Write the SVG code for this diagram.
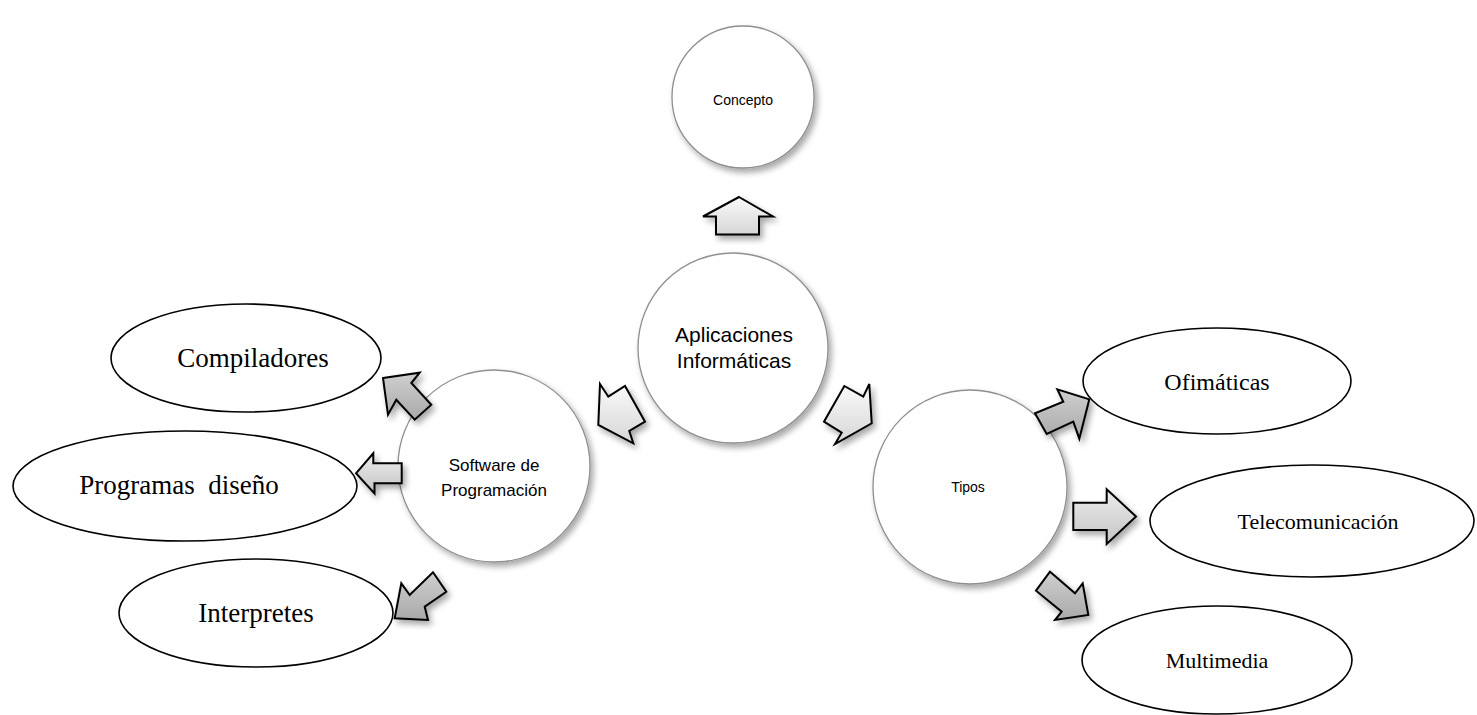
<svg xmlns="http://www.w3.org/2000/svg" width="1477" height="715" viewBox="0 0 1477 715">
<defs>
<filter id="sh" x="-20%" y="-20%" width="150%" height="150%">
<feGaussianBlur in="SourceAlpha" stdDeviation="3"/>
<feOffset dx="3" dy="4" result="b"/>
<feComponentTransfer><feFuncA type="linear" slope="0.35"/></feComponentTransfer>
<feMerge><feMergeNode/><feMergeNode in="SourceGraphic"/></feMerge>
</filter>
<linearGradient id="gl" x1="0" y1="0" x2="0" y2="1">
<stop offset="0" stop-color="#fafafa"/><stop offset="1" stop-color="#d6d6d6"/>
</linearGradient>
<linearGradient id="gm" x1="0" y1="0" x2="0" y2="1">
<stop offset="0" stop-color="#ececec"/><stop offset="1" stop-color="#c4c4c4"/>
</linearGradient>
<linearGradient id="gd" x1="0" y1="0" x2="0" y2="1">
<stop offset="0" stop-color="#cfcfcf"/><stop offset="1" stop-color="#a9a9a9"/>
</linearGradient>
</defs>
<style>
.circ{fill:#fff;stroke:#8f8f8f;stroke-width:1.3;filter:url(#sh)}
.ell{fill:#fff;stroke:#000;stroke-width:1.6}
.arr{stroke:#000;stroke-width:2;stroke-linejoin:miter;filter:url(#sh)}
.l{fill:url(#gl)}
.m{fill:url(#gm)}
.d{fill:url(#gd)}
.ct{font-family:"Liberation Sans",Arial,sans-serif;fill:#000;text-anchor:middle}
.et{font-family:"Liberation Serif","Times New Roman",serif;font-size:22px;fill:#000;text-anchor:middle}
.big{font-size:27px}
.mid{font-size:24px}
</style>
<rect width="1477" height="715" fill="#fff"/>

<g id="concepto">
<circle class="circ" cx="743" cy="97" r="71"/>
<text class="ct" x="743" y="105" font-size="14">Concepto</text>
</g>
<g id="aplicaciones">
<circle class="circ" cx="733" cy="348" r="95"/>
<text class="ct" x="734" y="342" font-size="21">Aplicaciones</text>
<text class="ct" x="734" y="368" font-size="21">Informáticas</text>
</g>
<g id="software">
<circle class="circ" cx="494" cy="466" r="96"/>
<text class="ct" x="494" y="471" font-size="17">Software de</text>
<text class="ct" x="494" y="496" font-size="17">Programación</text>
</g>
<g id="tipos">
<circle class="circ" cx="970" cy="487" r="97"/>
<text class="ct" x="968" y="492" font-size="14">Tipos</text>
</g>

<g id="compiladores">
<ellipse class="ell" cx="246" cy="358" rx="135" ry="54"/>
<text class="et big" x="253" y="367">Compiladores</text>
</g>
<g id="programas">
<ellipse class="ell" cx="185" cy="486" rx="172" ry="55"/>
<text class="et big" x="179" y="494" xml:space="preserve">Programas  diseño</text>
</g>
<g id="interpretes">
<ellipse class="ell" cx="256" cy="613" rx="137" ry="54"/>
<text class="et big" x="256" y="622">Interpretes</text>
</g>
<g id="ofimaticas">
<ellipse class="ell" cx="1217" cy="381" rx="134" ry="53"/>
<text class="et mid" x="1217" y="390">Ofimáticas</text>
</g>
<g id="telecomunicacion">
<ellipse class="ell" cx="1312" cy="521" rx="162" ry="56"/>
<text class="et" x="1318" y="529">Telecomunicación</text>
</g>
<g id="multimedia">
<ellipse class="ell" cx="1217" cy="660" rx="135" ry="54"/>
<text class="et" x="1217" y="668">Multimedia</text>
</g>

<g id="connectors">
<polygon class="arr l" points="739,197 773,216.5 759,216.5 759,234.5 716,234.5 716,216.5 703,216.5"/>
<polygon class="arr l" points="600,384 608.3,396.7 625,386 645,421.7 629.3,431 633.3,443.3 598.3,425"/>
<polygon class="arr l" points="869.3,384 863.3,396.7 844.3,386 824,421.7 841.7,432.7 835,444 871.7,423.3"/>
<polygon class="arr d" points="383,378 419.7,372.7 411.3,383 431.3,404.7 414.7,419.7 396.3,399.7 388,414.7"/>
<polygon class="arr m" points="356,473.3 373.3,453.3 373.3,463.3 401.7,463.3 401.7,483.3 374.5,483.3 374.5,493.5"/>
<polygon class="arr d" points="433,572.3 446.3,591.7 424.7,606.7 428,620 394.7,618.3 401.3,583.3 409.7,595"/>
<polygon class="arr d" points="1057.3,389.3 1063.3,401.7 1035,413.3 1046.7,434 1073.3,421.7 1079.3,438.7 1089.3,399.3"/>
<polygon class="arr m" points="1073.3,502.7 1106.7,502.7 1106.7,489.3 1136,516.5 1106.7,544 1106.7,530 1073.3,530"/>
<polygon class="arr d" points="1050,571.7 1036,590.7 1061.7,611.7 1055,620 1088.3,615 1082.7,583.3 1075,593.3"/>
</g>
</svg>
